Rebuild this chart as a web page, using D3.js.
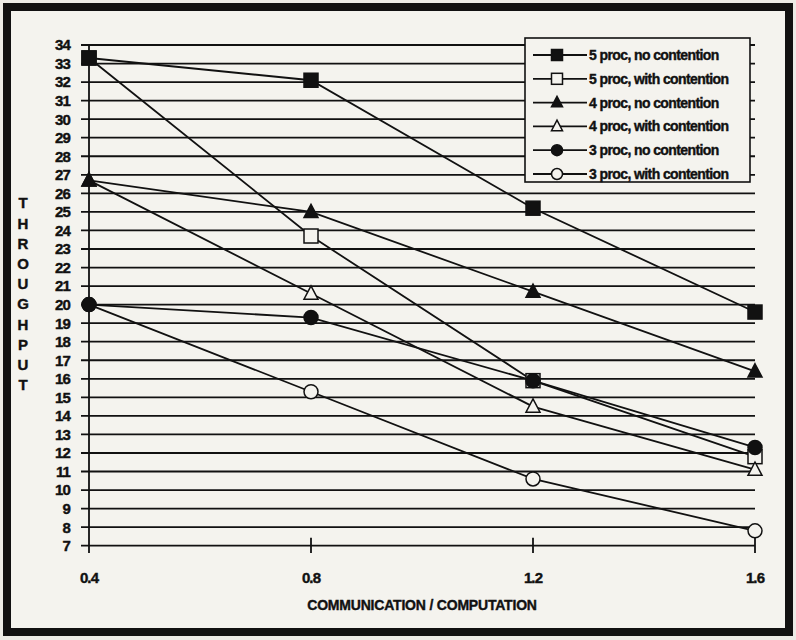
<!DOCTYPE html>
<html><head><meta charset="utf-8">
<script src="https://cdn.jsdelivr.net/npm/d3@7"></script>
<style>
html,body{margin:0;padding:0;background:#ecebe6;}
svg{display:block;}
text{font-family:"Liberation Sans",Arial,sans-serif;font-weight:bold;fill:#111;stroke:#111;stroke-width:0.4px;}
</style></head>
<body>
<svg id="c" width="796" height="640"></svg>
<script>
const xValues = [0.4, 0.8, 1.2, 1.6];
const xTickLabels = ["0.4", "0.8", "1.2", "1.6"];
const yTicks = d3.range(7, 35);
const seriesNames = ["5 proc, no contention","5 proc, with contention","4 proc, no contention","4 proc, with contention","3 proc, no contention","3 proc, with contention"];
const seriesMarkers = ["square","square","triangle","triangle","circle","circle"];
const seriesFilled = [true,false,true,false,true,false];
const p5no   = [33.3, 32.1, 25.2, 19.6];
const p5with = [33.3, 23.7, 15.9, 11.8];
const p4no   = [26.7, 25.0, 20.7, 16.4];
const p4with = [26.7, 20.6, 14.5, 11.1];
const p3no   = [20.0, 19.3, 15.9, 12.3];
const p3with = [20.0, 15.3, 10.6, 7.8];
const seriesValues = [p5no, p5with, p4no, p4with, p3no, p3with];
const yTitle = "THROUGHPUT";
const xTitle = "COMMUNICATION / COMPUTATION";

const svg = d3.select("#c");
const bg = "#f4f3ee";
// frame
svg.append("rect").attr("x",7).attr("y",7).attr("width",782).attr("height",625)
  .attr("fill",bg).attr("stroke","#111").attr("stroke-width",8);

const x = d3.scaleLinear().domain([0.4,1.6]).range([89,755]);
const y = d3.scaleLinear().domain([7,34]).range([545.7,45]);

// gridlines
svg.append("g").selectAll("line").data(yTicks).join("line")
  .attr("x1",81).attr("x2",x(1.6)).attr("y1",d=>y(d)).attr("y2",d=>y(d))
  .attr("stroke","#111").attr("stroke-width",1.8);

// y axis line
svg.append("line").attr("x1",x(0.4)).attr("x2",x(0.4)).attr("y1",y(34)).attr("y2",553)
  .attr("stroke","#111").attr("stroke-width",1.8);
// x ticks
svg.append("g").selectAll("line").data(xValues.slice(1)).join("line")
  .attr("x1",d=>x(d)).attr("x2",d=>x(d)).attr("y1",y(7)-8).attr("y2",553)
  .attr("stroke","#111").attr("stroke-width",1.8);

// y tick labels
svg.append("g").selectAll("text").data(yTicks).join("text")
  .attr("x",70).attr("y",d=>y(d)).attr("dy","0.36em").attr("text-anchor","end")
  .attr("font-size",15).attr("letter-spacing",-0.9).text(d=>d);
// x tick labels
svg.append("g").selectAll("text").data(xValues).join("text")
  .attr("x",d=>x(d)).attr("y",578).attr("dy","0.36em").attr("text-anchor","middle")
  .attr("font-size",15).attr("letter-spacing",-0.9).text((d,i)=>xTickLabels[i]);
// x title
svg.append("text").attr("x",422).attr("y",605).attr("dy","0.36em").attr("text-anchor","middle")
  .attr("font-size",14).attr("letter-spacing",-0.2).text(xTitle);
// y title stacked
svg.append("g").selectAll("text").data(yTitle.split("")).join("text")
  .attr("x",23).attr("y",(d,i)=>203+i*20.2).attr("dy","0.36em").attr("text-anchor","middle")
  .attr("font-size",15).text(d=>d);

function marker(g, type, filled, cx, cy, s){
  const fill = filled ? "#111" : bg;
  if(type==="square"){
    g.append("rect").attr("x",cx-s/2).attr("y",cy-s/2).attr("width",s).attr("height",s)
      .attr("fill",fill).attr("stroke","#111").attr("stroke-width",1.5);
  } else if(type==="triangle"){
    const h = s*0.95;
    g.append("path").attr("d",`M${cx},${cy-h/2-1}L${cx+s/2},${cy+h/2-1}L${cx-s/2},${cy+h/2-1}Z`)
      .attr("fill",fill).attr("stroke","#111").attr("stroke-width",1.5);
  } else {
    g.append("circle").attr("cx",cx).attr("cy",cy).attr("r",s/2)
      .attr("fill",fill).attr("stroke","#111").attr("stroke-width",1.5);
  }
}

const line = d3.line().x((d,i)=>x(xValues[i])).y(d=>y(d));
const linesG = svg.append("g");
seriesValues.forEach((vals)=>{
  linesG.append("path").attr("d",line(vals)).attr("fill","none").attr("stroke","#111").attr("stroke-width",1.8);
});
const markG = svg.append("g");
// open markers first, filled markers on top
[1,3,5,0,2,4].forEach(si=>{
  seriesValues[si].forEach((v,i)=>marker(markG, seriesMarkers[si], seriesFilled[si], x(xValues[i]), y(v), 14));
});

// legend
const lg = svg.append("g");
lg.append("rect").attr("x",525).attr("y",38).attr("width",225).attr("height",144)
  .attr("fill",bg).attr("stroke","#111").attr("stroke-width",1.6);
seriesNames.forEach((name,i)=>{
  const ly = 55 + i*23.8;
  lg.append("line").attr("x1",533).attr("x2",587).attr("y1",ly).attr("y2",ly)
    .attr("stroke","#111").attr("stroke-width",1.8);
  marker(lg, seriesMarkers[i], seriesFilled[i], 557, ly, 11);
  lg.append("text").attr("x",589).attr("y",ly).attr("dy","0.36em")
    .attr("font-size",14).attr("letter-spacing",-0.6).text(name);
});
</script>
</body></html>
